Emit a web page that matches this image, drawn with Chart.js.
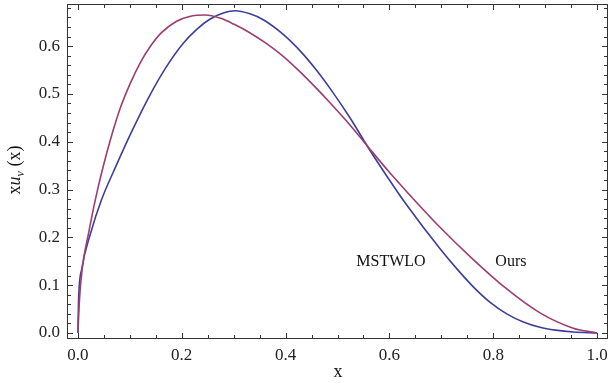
<!DOCTYPE html>
<html>
<head>
<meta charset="utf-8">
<script src="https://cdn.jsdelivr.net/npm/chart.js@4/dist/chart.umd.min.js"></script>
<style>
  html, body { margin: 0; padding: 0; background: #fff; }
  #wrap { width: 610px; height: 383px; }
</style>
</head>
<body>
<div id="wrap"><canvas id="myChart" width="610" height="383"></canvas></div>
<script>
// MSTW LO curve
const mstwX = [0, 0.0013, 0.0077, 0.024, 0.046, 0.075, 0.104, 0.139, 0.17, 0.203, 0.23, 0.254, 0.28, 0.3025, 0.33, 0.357, 0.396, 0.428, 0.46, 0.486, 0.524, 0.559, 0.6, 0.633, 0.6975, 0.73, 0.762, 0.794, 0.826, 0.858, 0.89, 0.92, 0.954, 1.0];
const mstwY = [0, 0.069, 0.135, 0.207, 0.280, 0.353, 0.422, 0.498, 0.556, 0.606, 0.636, 0.656, 0.669, 0.674, 0.668, 0.655, 0.624, 0.590, 0.549, 0.511, 0.450, 0.388, 0.320, 0.268, 0.176, 0.134, 0.096, 0.064, 0.040, 0.023, 0.012, 0.006, 0.002, 0];

// "Ours" curve
const oursX = [0, 0.003, 0.0083, 0.0206, 0.0334, 0.048, 0.0655, 0.0815, 0.1, 0.12, 0.14, 0.16, 0.19, 0.215, 0.245, 0.275, 0.3, 0.331, 0.3635, 0.396, 0.428, 0.46, 0.486, 0.524, 0.559, 0.6, 0.633, 0.6975, 0.76, 0.826, 0.89, 0.954, 1.0];
const oursY = [0, 0.069, 0.135, 0.209, 0.278, 0.345, 0.415, 0.470, 0.520, 0.565, 0.600, 0.627, 0.652, 0.662, 0.665, 0.658, 0.646, 0.628, 0.605, 0.578, 0.546, 0.511, 0.481, 0.435, 0.389, 0.336, 0.296, 0.221, 0.155, 0.092, 0.042, 0.010, 0];

const xTicks = [0, 0.2, 0.4, 0.6, 0.8, 1.0];
const yTicks = [0, 0.1, 0.2, 0.3, 0.4, 0.5, 0.6];
const curveNames = ["MSTWLO", "Ours"];

const BLUE = "#3d3d9c";
const PURPLE = "#9c3d72";
const SERIF = "'Liberation Serif', 'Times New Roman', serif";

function toPoints(xs, ys) {
  return xs.map((x, i) => ({ x: x, y: ys[i] }));
}

function noPadding(s) {
  s.paddingTop = 0;
  s.paddingBottom = 0;
  s.paddingLeft = 0;
  s.paddingRight = 0;
}

// frame, inward ticks on all sides, curve labels and axis titles
const framePlugin = {
  id: "frame",
  afterDraw(chart) {
    const ctx = chart.ctx;
    const a = chart.chartArea;
    const sx = chart.scales.x;
    const sy = chart.scales.y;
    ctx.save();
    ctx.strokeStyle = "#333";
    ctx.lineWidth = 1;
    ctx.strokeRect(Math.round(a.left) + 0.5, Math.round(a.top) + 0.5, Math.round(a.right - a.left) - 1, Math.round(a.bottom - a.top) - 1);

    ctx.beginPath();
    for (let i = 0; i <= 20; i++) {
      const v = i * 0.05;
      const len = i % 4 === 0 ? 6 : 4;
      const px = Math.round(sx.getPixelForValue(v)) + 0.5;
      ctx.moveTo(px, a.bottom); ctx.lineTo(px, a.bottom - len);
      ctx.moveTo(px, a.top); ctx.lineTo(px, a.top + len);
    }
    for (let i = 0; i <= 34; i++) {
      const v = i * 0.02;
      const len = i % 5 === 0 ? 6 : 4;
      const py = Math.round(sy.getPixelForValue(v)) + 0.5;
      ctx.moveTo(a.left, py); ctx.lineTo(a.left + len, py);
      ctx.moveTo(a.right, py); ctx.lineTo(a.right - len, py);
    }
    ctx.stroke();

    // curve labels
    ctx.fillStyle = "#111";
    ctx.font = "16px " + SERIF;
    ctx.textAlign = "center";
    ctx.textBaseline = "middle";
    ctx.fillText(curveNames[0], sx.getPixelForValue(0.603), sy.getPixelForValue(0.149));
    ctx.fillText(curveNames[1], sx.getPixelForValue(0.834), sy.getPixelForValue(0.149));

    // x title
    ctx.font = "18px " + SERIF;
    ctx.fillText("x", 338, 372);

    // y title: x u_v (x)
    ctx.translate(14, 170);
    ctx.rotate(-Math.PI / 2);
    ctx.textAlign = "left";
    ctx.textBaseline = "alphabetic";
    const parts = [
      { t: "x", f: "18px " + SERIF, dy: 0 },
      { t: "u", f: "italic 18px " + SERIF, dy: 0 },
      { t: "v", f: "italic 12px " + SERIF, dy: 4 },
      { t: " (x)", f: "18px " + SERIF, dy: 0 }
    ];
    let w = 0;
    parts.forEach(p => { ctx.font = p.f; w += ctx.measureText(p.t).width; });
    let cx = -w / 2;
    parts.forEach(p => {
      ctx.font = p.f;
      ctx.fillText(p.t, cx, 6 + p.dy);
      cx += ctx.measureText(p.t).width;
    });
    ctx.restore();
  }
};

const ctx = document.getElementById("myChart");
const chart = new Chart(ctx, {
  type: "line",
  data: {
    datasets: [
      {
        label: curveNames[1],
        data: toPoints(oursX, oursY),
        borderColor: PURPLE,
        borderWidth: 1.6,
        pointRadius: 0,
        cubicInterpolationMode: "monotone",
        fill: false
      },
      {
        label: curveNames[0],
        data: toPoints(mstwX, mstwY),
        borderColor: BLUE,
        borderWidth: 1.6,
        pointRadius: 0,
        cubicInterpolationMode: "monotone",
        fill: false
      }
    ]
  },
  options: {
    responsive: false,
    devicePixelRatio: 1,
    animation: false,
    layout: { padding: { top: 4, right: 2, left: 0, bottom: 0 } },
    plugins: { legend: { display: false }, tooltip: { enabled: false } },
    scales: {
      x: {
        type: "linear",
        min: -0.021,
        max: 1.021,
        grid: { display: false, drawTicks: false },
        border: { display: false },
        afterBuildTicks: s => { s.ticks = xTicks.map(v => ({ value: v })); },
        afterFit: s => { s.height = 44; noPadding(s); },
        ticks: {
          maxRotation: 0,
          padding: 6,
          color: "#222",
          font: { family: SERIF, size: 17 },
          callback: v => v.toFixed(1)
        }
      },
      y: {
        type: "linear",
        min: -0.0126,
        max: 0.688,
        grid: { display: false, drawTicks: false },
        border: { display: false },
        afterBuildTicks: s => { s.ticks = yTicks.map(v => ({ value: v })); },
        afterFit: s => { s.width = 67; noPadding(s); },
        ticks: {
          padding: 7,
          color: "#222",
          font: { family: SERIF, size: 17 },
          callback: v => v.toFixed(1)
        }
      }
    }
  },
  plugins: [framePlugin]
});
</script>
</body>
</html>
